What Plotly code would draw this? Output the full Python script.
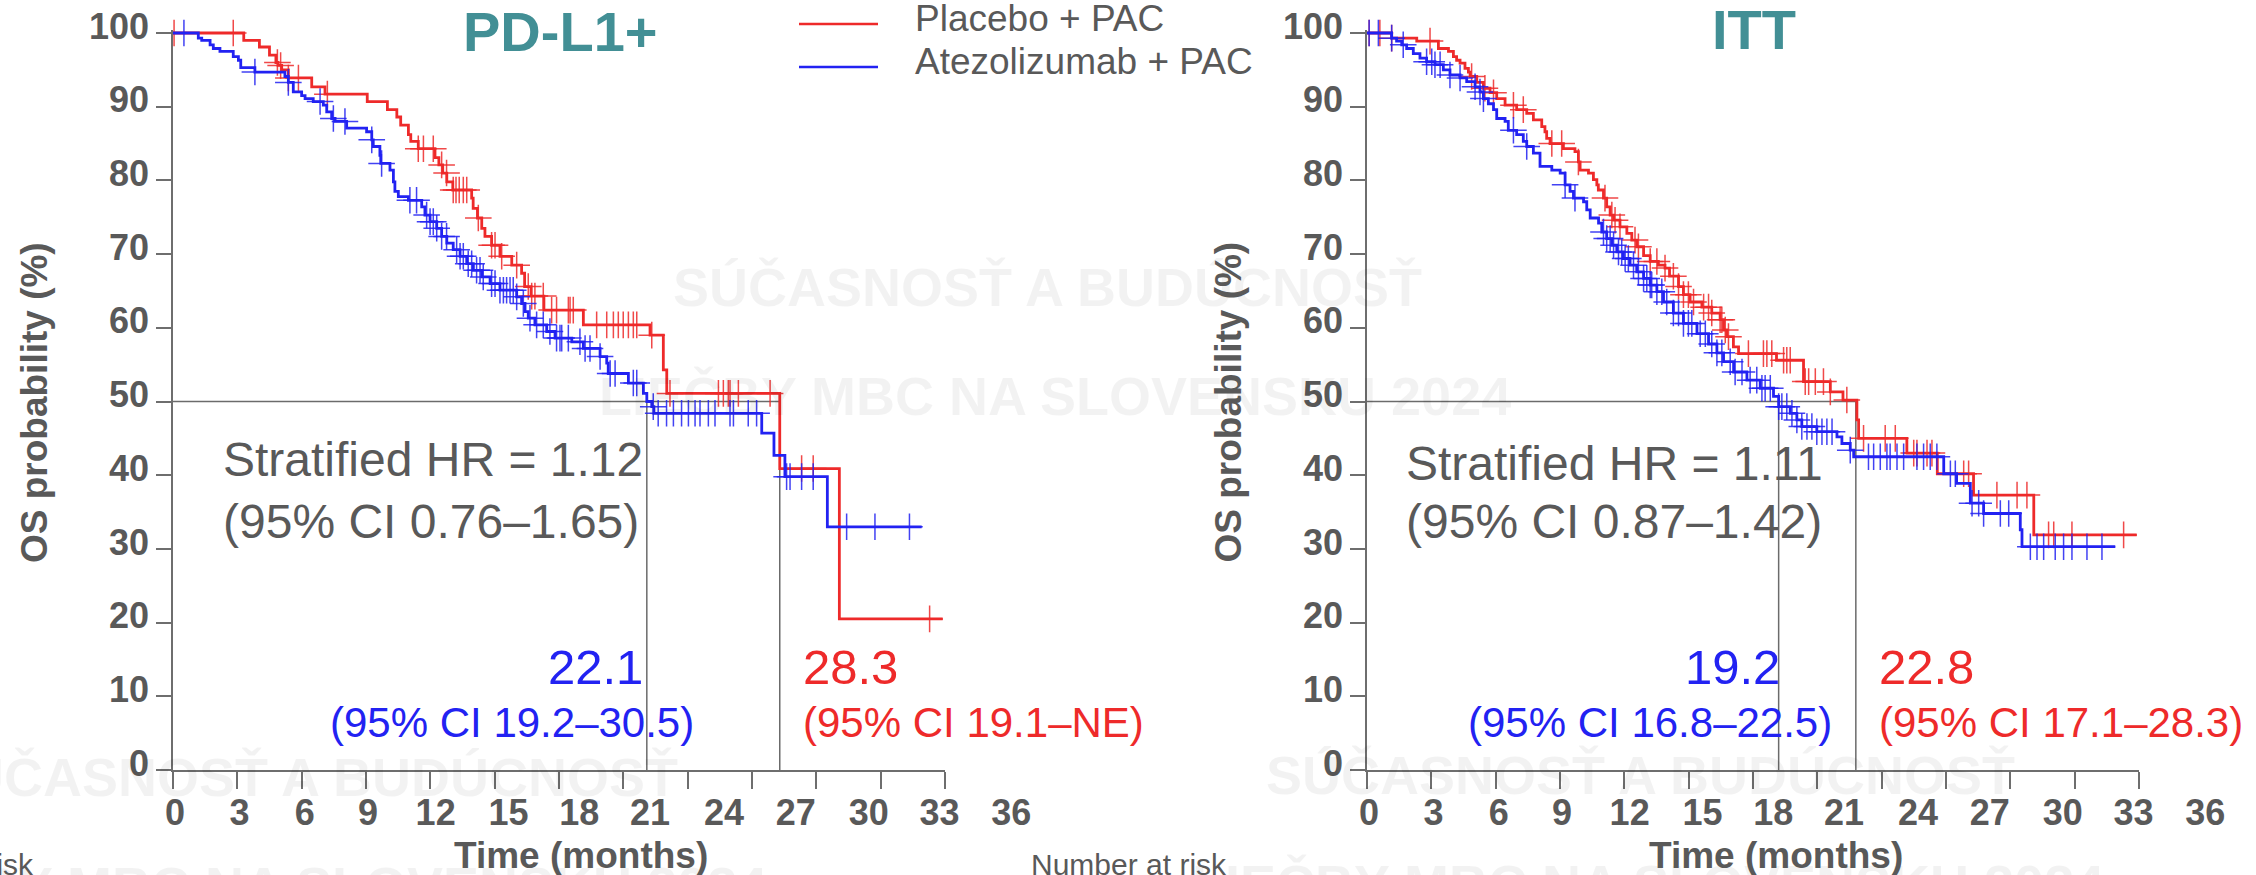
import numpy as np
import plotly.graph_objects as go

# ---------------- data ----------------
month_ticks = list(range(0, 37, 3))
month_labels = [str(v) for v in month_ticks]
os_ticks = list(range(0, 101, 10))

# PD-L1+ : Placebo + PAC (red)
pdl1_pla_t = [0, 3.3, 4.03, 4.5, 4.8, 4.9, 5.07, 5.38, 6.47, 7.09, 9.06, 10.0, 10.44, 10.62, 10.98, 11.09,
              11.44, 12.22, 12.4, 12.58, 12.77, 13.05, 13.93, 14.0, 14.2, 14.4, 14.55, 14.86, 15.25, 15.8,
              16.26, 16.4, 16.7, 17.3, 19.14, 22.25, 22.87, 23.03, 28.3, 31.08, 35.9]
pdl1_pla_s = [100, 99.0, 98.1, 97.0, 96.0, 95.6, 95.0, 93.9, 92.7, 91.7, 90.7, 89.6, 88.6, 87.5, 86.2, 85.3,
              84.3, 83.1, 82.1, 81.0, 79.8, 78.7, 77.6, 76.2, 74.9, 73.5, 72.4, 71.2, 69.7, 68.5,
              67.4, 65.6, 64.3, 62.4, 60.4, 59.0, 54.3, 51.1, 40.9, 20.5, 20.5]
pdl1_pla_cens = [0.05, 2.81, 4.87, 5.02, 5.38, 5.85, 7.2, 11.44, 11.68, 12.14, 12.53, 12.76, 13.07, 13.2,
                 13.35, 13.54, 13.7, 14.24, 14.86, 15.02, 15.33, 16.03, 16.57, 16.73, 16.88, 17.27, 17.66,
                 17.89, 18.44, 18.52, 18.67, 19.76, 20.23, 20.54, 20.77, 21.0, 21.24, 21.47, 21.63, 22.33,
                 23.18, 25.44, 25.67, 25.9, 25.98, 26.37, 27.85, 29.32, 29.86, 35.29]

# PD-L1+ : Atezolizumab + PAC (blue)
pdl1_ate_t = [0, 1.18, 1.34, 1.73, 1.88, 2.19, 2.81, 3.05, 3.16, 3.82, 5.22, 5.38, 5.61, 6.0, 6.16, 6.54,
              7.01, 7.17, 7.4, 7.56, 8.1, 9.03, 9.27, 9.34, 9.65, 9.69, 10.12, 10.28, 10.35, 10.51, 10.98,
              11.6, 11.75, 11.99, 12.3, 12.53, 12.77, 13.07, 13.39, 13.7, 14.01, 14.4, 14.79, 15.25, 16.03,
              16.26, 16.42, 16.57, 16.88, 17.43, 17.82, 18.6, 19.14, 19.92, 20.23, 20.3, 21.24, 21.94, 22.1,
              22.33, 22.43, 27.46, 28.03, 28.54, 30.52, 34.92]
pdl1_ate_s = [100, 99.3, 99.0, 98.4, 97.9, 97.5, 96.8, 96.3, 95.3, 94.7, 94.1, 93.3, 92.0, 91.5, 91.1, 90.7,
              90.2, 89.3, 88.4, 88.0, 87.1, 86.6, 85.5, 84.6, 83.4, 82.3, 81.4, 79.8, 78.5, 77.8, 77.3,
              76.4, 75.3, 74.4, 73.5, 72.4, 71.5, 70.6, 69.7, 68.7, 67.8, 66.9, 66.0, 65.1, 64.2,
              63.3, 62.2, 61.3, 60.4, 59.5, 58.6, 58.1, 57.2, 56.1, 55.2, 53.8, 52.5, 51.1, 50.0,
              49.3, 48.4, 45.7, 42.7, 39.8, 33.0, 33.0]
pdl1_ate_cens = [0.51, 3.82, 5.38, 6.86, 7.48, 8.02, 9.27, 9.73, 11.05, 11.36, 11.83, 11.99, 12.14, 12.3,
                 12.53, 12.76, 13.23, 13.39, 13.54, 13.77, 13.93, 14.16, 14.32, 14.47, 14.86, 15.02, 15.25,
                 15.41, 15.56, 15.72, 15.87, 16.03, 16.34, 16.65, 16.96, 17.27, 17.58, 17.89, 18.05, 18.13,
                 18.44, 18.98, 19.22, 19.45, 19.92, 20.39, 20.62, 21.47, 21.63, 22.4, 22.63, 23.02, 23.34,
                 23.72, 24.04, 24.35, 24.58, 24.97, 25.28, 25.98, 26.14, 26.83, 27.22, 28.62, 28.78, 29.32,
                 29.86, 31.42, 32.74, 34.35]

# ITT : Placebo + PAC (red)
itt_pla_t = [0, 1.15, 2.32, 3.33, 3.8, 4.03, 4.18, 4.34, 4.57, 4.73, 4.81, 5.12, 5.43, 5.74, 6.05, 6.44,
             6.98, 7.45, 7.76, 8.15, 8.3, 8.38, 8.54, 9.16, 9.7, 9.86, 9.94, 10.33, 10.56, 10.72, 10.79,
             11.03, 11.18, 11.34, 11.5, 11.8, 12.12, 12.35, 12.58, 12.9, 13.21, 13.59, 13.9, 14.11, 14.53,
             14.76, 15.07, 15.62, 16.08, 16.47, 16.63, 16.78, 17.09, 17.33, 19.1, 20.36, 21.61, 22.2, 22.85,
             22.93, 25.18, 26.6, 28.29, 31.1, 35.9]
itt_pla_s = [100, 99.3, 98.9, 97.9, 97.5, 96.8, 96.3, 95.9, 95.2, 94.7, 94.1, 93.3, 92.5, 91.9, 91.1, 90.2,
             89.6, 89.1, 88.2, 87.3, 86.6, 85.7, 85.0, 84.3, 83.9, 82.5, 81.4, 81.0, 80.1, 79.4, 78.7,
             77.6, 76.4, 75.3, 74.6, 73.7, 72.8, 71.9, 71.0, 69.8, 69.0, 68.5, 68.1, 67.0, 65.6,
             64.5, 63.5, 62.8, 62.0, 61.1, 59.7, 58.8, 57.4, 56.5, 55.6, 52.7, 51.3, 50.2, 47.5,
             45.0, 43.0, 40.2, 37.3, 31.9, 31.9]
itt_pla_cens = [0.1, 0.6, 1.15, 2.94, 4.88, 5.5, 5.9, 6.83, 7.29, 8.62, 9.08, 9.86, 11.1, 11.42, 11.57, 11.8,
                12.5, 12.66, 13.21, 13.52, 13.9, 14.29, 14.53, 14.76, 14.99, 15.23, 15.7, 15.93, 16.08,
                16.47, 16.55, 16.71, 16.86, 17.79, 18.49, 18.65, 18.88, 19.43, 19.58, 19.74, 20.44, 20.6,
                20.91, 21.29, 21.61, 22.38, 23.16, 24.17, 24.64, 25.5, 25.65, 26.12, 26.35, 27.83, 28.06,
                29.38, 30.32, 30.78, 31.79, 32.03, 32.88, 35.29]

# ITT : Atezolizumab + PAC (blue)
itt_ate_t = [0, 1.15, 1.38, 1.62, 1.85, 2.16, 2.47, 2.78, 3.17, 3.56, 3.87, 4.34, 4.65, 5.04, 5.27, 5.43,
             5.66, 5.9, 6.05, 6.44, 6.59, 6.98, 7.29, 7.45, 7.76, 8.07, 8.62, 9.01, 9.24, 9.47, 9.63, 10.1,
             10.25, 10.41, 10.8, 10.95, 11.18, 11.42, 11.65, 11.96, 12.27, 12.58, 12.9, 13.21, 13.52, 13.83,
             14.29, 14.76, 15.39, 15.93, 16.32, 16.63, 17.1, 17.72, 18.34, 18.96, 19.2, 19.74, 20.05, 20.28,
             20.98, 21.92, 22.15, 22.54, 22.7, 26.9, 27.5, 28.14, 28.76, 30.47, 30.55, 34.9]
itt_ate_s = [100, 99.3, 98.9, 98.4, 97.9, 97.2, 96.6, 96.1, 95.7, 95.0, 94.3, 93.9, 93.4, 92.7, 92.0, 91.1,
             90.4, 89.6, 88.4, 88.0, 86.8, 86.2, 85.3, 84.6, 83.7, 81.9, 81.4, 81.0, 79.4, 78.5, 77.6, 77.1,
             76.0, 74.9, 74.2, 73.0, 72.1, 71.2, 70.3, 69.4, 68.5, 67.6, 66.7, 65.8, 64.9, 63.5,
             62.0, 60.6, 59.2, 57.8, 56.6, 55.4, 54.0, 52.9, 51.8, 50.7, 49.3, 48.4, 47.5, 46.6,
             45.9, 45.2, 44.3, 43.4, 42.5, 40.2, 38.9, 36.2, 34.8, 32.6, 30.3, 30.3]
itt_ate_cens = [0.1, 0.53, 1.15, 1.69, 2.78, 3.02, 3.17, 3.41, 3.87, 4.34, 5.04, 5.27, 5.43, 6.83, 7.45, 9.24,
                9.7, 11.03, 11.18, 11.34, 11.5, 11.73, 11.88, 12.04, 12.19, 12.43, 12.66, 12.9, 13.05, 13.21,
                13.28, 13.52, 13.75, 13.98, 14.29, 14.53, 14.76, 14.99, 15.15, 15.54, 15.78, 16.08, 16.32,
                16.55, 16.94, 17.17, 17.49, 17.87, 18.18, 18.42, 18.57, 18.81, 19.2, 19.35, 19.58, 19.82,
                20.05, 20.28, 20.52, 20.75, 20.98, 21.22, 21.45, 21.69, 22.54, 23.39, 23.63, 23.94, 24.25,
                24.4, 24.72, 25.03, 25.65, 25.96, 26.27, 26.58, 27.21, 27.44, 28.22, 28.53, 28.76, 29.54,
                29.93, 30.94, 31.25, 31.56, 32.1, 32.49, 32.88, 33.58, 34.28]

pdl1_median_ate, pdl1_median_pla = 22.1, 28.3
itt_median_ate, itt_median_pla = 19.2, 22.8

panel_titles = ["PD-L1+", "ITT"]
arm_names = ["Placebo + PAC", "Atezolizumab + PAC"]
hr_text = [["Stratified HR = 1.12", "(95% CI 0.76\u20131.65)"],
           ["Stratified HR = 1.11", "(95% CI 0.87\u20131.42)"]]
median_text = [["22.1", "(95% CI 19.2\u201330.5)", "28.3", "(95% CI 19.1\u2013NE)"],
               ["19.2", "(95% CI 16.8\u201322.5)", "22.8", "(95% CI 17.1\u201328.3)"]]
watermark = ["S\u00da\u010cASNOS\u0164 A BUD\u00daCNOS\u0164", "LIE\u010cBY MBC NA SLOVENSKU 2024"]

# ---------------- layout constants ----------------
W, H = 2256, 875
def px(x): return x / W
def py(y): return 1 - y / H

GRAY = "#595959"
AXC = "#6e6e6e"
RED = "#EE2A2A"
BLUE = "#2222F2"
TEAL = "#428F95"
FONT = "Liberation Sans, Arial, sans-serif"

# label offsets of the month tick labels (as drawn in the original slide), in axis units
label_pos = [0.1, 3.1, 6.15, 9.1, 12.25, 15.65, 18.95, 22.25, 25.7, 29.05, 32.45, 35.75, 39.1]

PXU = 21.44  # pixels per month
ydom = [py(770), py(30.05)]

def step_vals(t, s, times):
    t = np.asarray(t); s = np.asarray(s)
    idx = np.searchsorted(t, np.asarray(times), side="right") - 1
    return s[np.clip(idx, 0, len(s) - 1)]

fig = go.Figure()

panels = [
    dict(x="x", y="y", xl="x3",
         red=(pdl1_pla_t, pdl1_pla_s, pdl1_pla_cens), blue=(pdl1_ate_t, pdl1_ate_s, pdl1_ate_cens),
         med=(pdl1_median_ate, pdl1_median_pla)),
    dict(x="x2", y="y2", xl="x4",
         red=(itt_pla_t, itt_pla_s, itt_pla_cens), blue=(itt_ate_t, itt_ate_s, itt_ate_cens),
         med=(itt_median_ate, itt_median_pla)),
]

for p in panels:
    ma, mp = p["med"]
    fig.add_trace(go.Scatter(x=[0, max(ma, mp), None, ma, ma, None, mp, mp],
                             y=[50, 50, None, 50, 0, None, 50, 0],
                             mode="lines", line=dict(color="#6b6b6b", width=1.5),
                             xaxis=p["x"], yaxis=p["y"], hoverinfo="skip", showlegend=False))
    for key, col in (("red", RED), ("blue", BLUE)):
        t, s, c = p[key]
        fig.add_trace(go.Scatter(x=t, y=s, mode="lines", line=dict(color=col, width=2.8, shape="hv"),
                                 xaxis=p["x"], yaxis=p["y"], showlegend=False, hoverinfo="skip"))
        fig.add_trace(go.Scatter(x=c, y=step_vals(t, s, c), mode="markers",
                                 marker=dict(symbol="cross-thin", size=19, opacity=0.85,
                                             line=dict(color=col, width=1.5)),
                                 cliponaxis=False, xaxis=p["x"], yaxis=p["y"],
                                 showlegend=False, hoverinfo="skip"))
    # dummy trace so the label axis exists
    fig.add_trace(go.Scatter(x=[0], y=[0], mode="markers", marker=dict(opacity=0),
                             xaxis=p["xl"], yaxis=p["y"], showlegend=False, hoverinfo="skip"))

common_x = dict(range=[0, 36], tickvals=month_ticks, showticklabels=False, ticks="outside",
                ticklen=17, tickwidth=1.5, tickcolor=AXC, showline=True, linecolor=AXC, linewidth=1.5,
                showgrid=False, zeroline=False, fixedrange=True, automargin=False)
common_y = dict(range=[0, 100.4], domain=ydom, tickvals=os_ticks, ticks="outside", ticklen=15,
                tickwidth=1.5, tickcolor=AXC, showline=True, linecolor=AXC, linewidth=1.5,
                showgrid=False, zeroline=False, fixedrange=True, ticklabelshift=-7, ticklabelstandoff=0,
                automargin=False,
                tickfont=dict(family=FONT, size=36, color=GRAY, weight="bold"))
label_x = dict(range=[0, 40.5], tickvals=label_pos, ticktext=month_labels, ticks="outside", ticklen=17,
               tickcolor="rgba(0,0,0,0)", showline=False, showgrid=False, zeroline=False, fixedrange=True,
               automargin=False, ticklabelstandoff=-6,
               tickfont=dict(family=FONT, size=36, color=GRAY, weight="bold"))

fig.update_layout(
    width=W, height=H, margin=dict(l=0, r=0, t=0, b=0, pad=0, autoexpand=False), autosize=False,
    paper_bgcolor="white", plot_bgcolor="rgba(0,0,0,0)", showlegend=False,
    xaxis=dict(domain=[px(173), px(173 + 36 * PXU)], anchor="y", **common_x),
    yaxis=dict(anchor="x", **common_y),
    xaxis2=dict(domain=[px(1367), px(1367 + 36 * PXU)], anchor="y2", **common_x),
    yaxis2=dict(anchor="x2", **common_y),
    xaxis3=dict(domain=[px(173), px(173 + 40.5 * PXU)], anchor="y", **label_x),
    xaxis4=dict(domain=[px(1367), px(1367 + 40.5 * PXU)], anchor="y2", **label_x),
)

def ann(text, x, y, size, color=GRAY, xanchor="center", weight="normal", angle=0):
    return dict(text=text, x=px(x), y=py(y), xref="paper", yref="paper", xanchor=xanchor,
                yanchor="middle", showarrow=False, textangle=angle,
                font=dict(size=size, color=color, family=FONT, weight=weight))

anns = []
# watermarks (very faint)
WM = "rgba(0,0,0,0.05)"
for cx, cy in ((1047, 287), (303, 777), (1640, 775)):
    anns.append(ann(watermark[0], cx, cy, 54, WM, weight="bold"))
    anns.append(ann(watermark[1], cx + 8, cy + 109, 54, WM, weight="bold"))

# titles
anns.append(ann(panel_titles[0], 560, 31, 56, TEAL, weight="bold"))
anns.append(ann(panel_titles[1], 1754, 30, 56, TEAL, weight="bold"))
# legend text
anns.append(ann(arm_names[0], 913, 19, 37, GRAY, xanchor="left"))
anns.append(ann(arm_names[1], 913, 61, 37, GRAY, xanchor="left"))
# axis titles
for cx in (34.5, 1228):
    anns.append(ann("OS probability (%)", cx, 402.5, 37, GRAY, weight="bold", angle=-90))
anns.append(ann("Time (months)", 581, 855, 37, GRAY, weight="bold"))
anns.append(ann("Time (months)", 1776, 855, 37, GRAY, weight="bold"))
anns.append(ann("Number at risk", 36, 864, 30, GRAY, xanchor="right"))
anns.append(ann("Number at risk", 1229, 864, 30, GRAY, xanchor="right"))
# HR text
anns.append(ann(hr_text[0][0], 221, 459.5, 48, GRAY, xanchor="left"))
anns.append(ann(hr_text[0][1], 221, 521, 48, GRAY, xanchor="left"))
anns.append(ann(hr_text[1][0], 1404, 463.5, 48, GRAY, xanchor="left"))
anns.append(ann(hr_text[1][1], 1404, 521, 48, GRAY, xanchor="left"))
# medians
anns.append(ann(median_text[0][0], 645, 666.5, 49, BLUE, xanchor="right"))
anns.append(ann(median_text[0][1], 696, 722.5, 42, BLUE, xanchor="right"))
anns.append(ann(median_text[0][2], 801, 666.5, 49, RED, xanchor="left"))
anns.append(ann(median_text[0][3], 801, 722.5, 42, RED, xanchor="left"))
anns.append(ann(median_text[1][0], 1782, 666.5, 49, BLUE, xanchor="right"))
anns.append(ann(median_text[1][1], 1834, 722.5, 42, BLUE, xanchor="right"))
anns.append(ann(median_text[1][2], 1877, 666.5, 49, RED, xanchor="left"))
anns.append(ann(median_text[1][3], 1877, 722.5, 42, RED, xanchor="left"))

shapes = [
    dict(type="line", xref="paper", yref="paper", x0=px(799), x1=px(878), y0=py(24), y1=py(24),
         line=dict(color=RED, width=2.5)),
    dict(type="line", xref="paper", yref="paper", x0=px(799), x1=px(878), y0=py(67), y1=py(67),
         line=dict(color=BLUE, width=2.5)),
]
fig.update_layout(annotations=anns, shapes=shapes)

fig.write_html("out.html")
